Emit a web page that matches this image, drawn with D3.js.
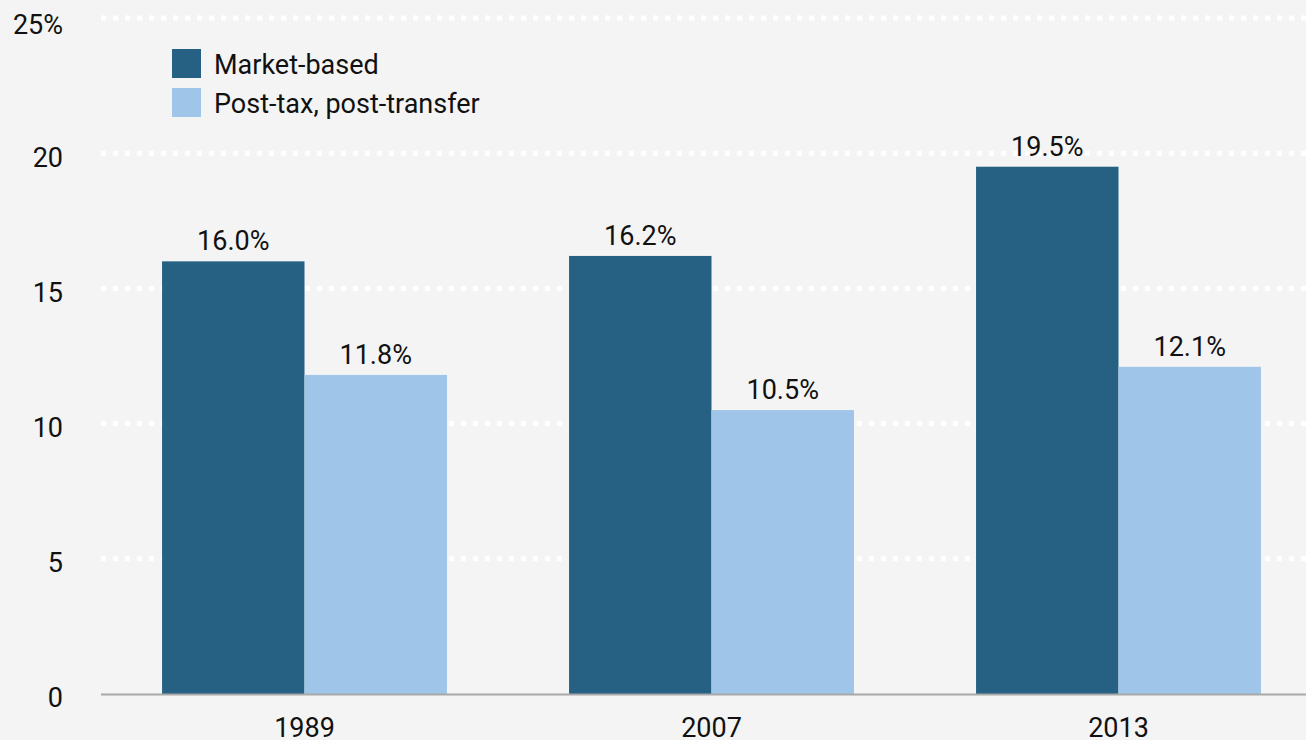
<!DOCTYPE html>
<html>
<head>
<meta charset="utf-8">
<script src="https://cdn.jsdelivr.net/npm/d3@7"></script>
<style>
  body { margin: 0; background: #f4f4f4; }
  svg text { font-family: Roboto, "Open Sans", sans-serif; fill: #111; }
</style>
</head>
<body>
<svg id="chart"></svg>
<script>
const years = ['1989', '2007', '2013'];
const seriesNames = ['Market-based', 'Post-tax, post-transfer'];
const marketBased = [16.0, 16.2, 19.5];
const postTax = [11.8, 10.5, 12.1];
const yTicks = [0, 5, 10, 15, 20, 25];
const colors = ['#266183', '#9fc5e8'];

const width = 1306, height = 740;
const fontSize = '27px';
const svg = d3.select('#chart')
    .attr('width', width)
    .attr('height', height);

svg.append('rect')
    .attr('width', width)
    .attr('height', height)
    .attr('fill', '#f4f4f4');

const data = years.map((y, i) => ({ year: y, values: [marketBased[i], postTax[i]] }));

const x = d3.scaleBand()
    .domain(years)
    .range([101, 1322])
    .paddingInner(0.3)
    .paddingOuter(0.15);

const xSub = d3.scaleBand()
    .domain([0, 1])
    .range([0, x.bandwidth()])
    .padding(0);

const y = d3.scaleLinear()
    .domain([0, 25])
    .range([694, 18]);

// gridlines
svg.append('g')
    .selectAll('line')
    .data(yTicks.filter(d => d > 0))
    .enter()
    .append('line')
    .attr('x1', 101)
    .attr('x2', width)
    .attr('y1', d => y(d))
    .attr('y2', d => y(d))
    .attr('stroke', '#ffffff')
    .attr('stroke-width', 5)
    .attr('stroke-dasharray', '5,7');

// y labels
svg.append('g')
    .selectAll('text')
    .data(yTicks)
    .enter()
    .append('text')
    .attr('x', 63)
    .attr('y', d => y(d) + (d === 25 ? 7 : 4))
    .attr('dy', '0.35em')
    .attr('text-anchor', 'end')
    .style('font-size', fontSize)
    .text(d => d === 25 ? '25%' : d);

// bars
const groups = svg.append('g')
    .selectAll('g')
    .data(data)
    .enter()
    .append('g')
    .attr('transform', d => `translate(${x(d.year)},0)`);

groups.selectAll('rect')
    .data(d => d.values)
    .enter()
    .append('rect')
    .attr('x', (d, i) => xSub(i))
    .attr('y', d => y(d))
    .attr('width', xSub.bandwidth())
    .attr('height', d => y(0) - y(d))
    .attr('fill', (d, i) => colors[i]);

groups.selectAll('text')
    .data(d => d.values)
    .enter()
    .append('text')
    .attr('x', (d, i) => xSub(i) + xSub.bandwidth() / 2)
    .attr('y', d => y(d) - 11)
    .attr('text-anchor', 'middle')
    .style('font-size', fontSize)
    .text(d => d.toFixed(1) + '%');

// baseline
svg.append('line')
    .attr('x1', 101)
    .attr('x2', width)
    .attr('y1', y(0) + 0.5)
    .attr('y2', y(0) + 0.5)
    .attr('stroke', '#a8a8a8')
    .attr('stroke-width', 2);

// x labels
svg.append('g')
    .selectAll('text')
    .data(years)
    .enter()
    .append('text')
    .attr('x', d => x(d) + x.bandwidth() / 2)
    .attr('y', 737)
    .attr('text-anchor', 'middle')
    .style('font-size', fontSize)
    .text(d => d);

// legend
const legend = svg.append('g')
    .selectAll('g')
    .data(seriesNames)
    .enter()
    .append('g')
    .attr('transform', (d, i) => `translate(172,${49 + i * 39})`);

legend.append('rect')
    .attr('width', 29)
    .attr('height', 29)
    .attr('fill', (d, i) => colors[i]);

legend.append('text')
    .attr('x', 42)
    .attr('y', 16)
    .attr('dy', '0.35em')
    .style('font-size', fontSize)
    .text(d => d);
</script>
</body>
</html>
